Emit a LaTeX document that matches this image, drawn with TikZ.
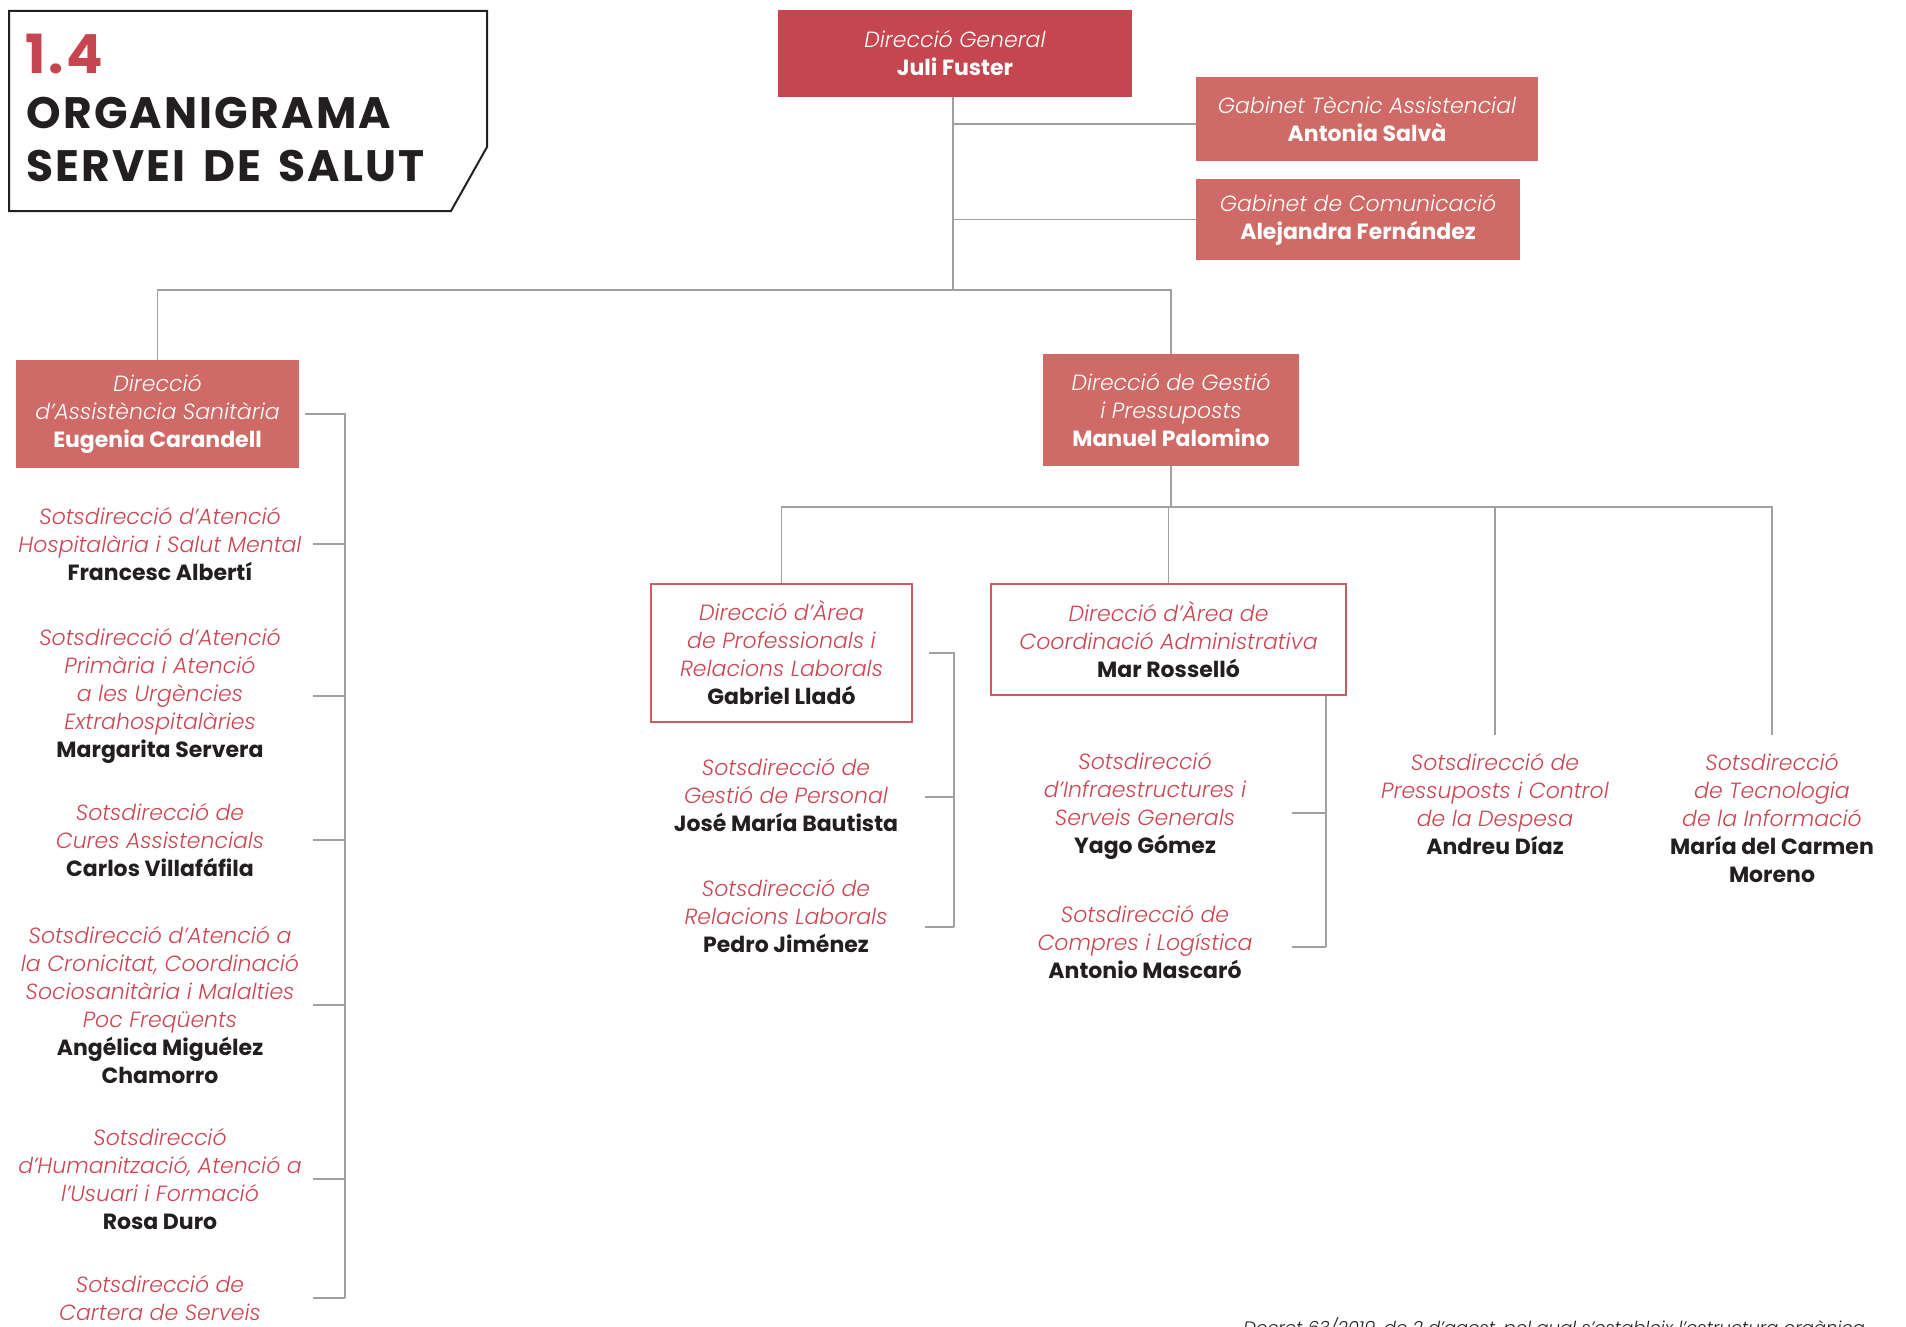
\documentclass[tikz,border=0pt]{standalone}
\usepackage{fontspec}
\setmainfont{Poppins}[ItalicFont={* Light Italic},BoldFont={* Bold}]
\newfontfamily\titlefont{Poppins Bold}[LetterSpace=5,WordSpace=1.5]

\definecolor{chiefred}{HTML}{C5464F}
\definecolor{unitred}{HTML}{CF6A66}
\definecolor{subred}{HTML}{CC4552}
\definecolor{arearule}{HTML}{D05A60}
\definecolor{linkgray}{HTML}{A0A0A0}
\definecolor{ink}{HTML}{231F20}

\newcommand{\nm}[1]{{\upshape\bfseries\fontsize{11}{14}\selectfont #1}}
\newcommand{\pn}[1]{{\color{ink}\upshape\bfseries\fontsize{11}{14}\selectfont #1}}

\begin{document}
\begin{tikzpicture}[x=0.5pt,y=-0.5pt,
        every node/.style={inner sep=0pt,align=center,font=\fontsize{11}{14}\selectfont\itshape},
        chief/.style={fill=chiefred,text=white},
        unit/.style={fill=unitred,text=white},
        area/.style={draw=arearule,line width=0.8pt,fill=white,text=subred},
        sub/.style={text=subred},
        link/.style={draw=linkgray,line width=0.7pt}]
        \useasboundingbox (0,0) rectangle (1906,1327);

        % title
        \draw[line width=1pt,ink] (9,11) -- (487,11) -- (487,147) -- (451,211) -- (9,211) -- cycle;
        \node[anchor=base west,font=\titlefont\fontsize{27}{27}\selectfont,text=chiefred] (num) at (25,74) {1.4};
        \node[anchor=base west,font=\titlefont\fontsize{22}{22}\selectfont,text=ink] (ttl1) at (26,128) {ORGANIGRAMA};
        \node[anchor=base west,font=\titlefont\fontsize{22}{22}\selectfont,text=ink] (ttl2) at (26,182) {SERVEI DE SALUT};

        % boxes
        \node[chief,minimum width=177pt,minimum height=43.5pt] (dg) at (955,53.5) {Direcció General\\\nm{Juli Fuster}};
        \node[unit,minimum width=171pt,minimum height=42pt] (gtec) at (1367,119) {Gabinet Tècnic Assistencial\\\nm{Antonia Salvà}};
        \node[unit,minimum width=162pt,minimum height=40.5pt] (gcom) at (1358,219.5) {Gabinet de Comunicació\\\nm{Alejandra Fernández}};
        \node[unit,minimum width=141.5pt,minimum height=54pt] (eug) at (157.5,414) {Direcció\\d'Assistència Sanitària\\\nm{Eugenia Carandell}};
        \node[unit,minimum width=128pt,minimum height=56pt] (man) at (1171,410) {Direcció de Gestió\\i Pressuposts\\\nm{Manuel Palomino}};
        \node[area,minimum width=130.5pt,minimum height=69pt] (gab) at (781.5,653) {Direcció d'Àrea\\de Professionals i\\Relacions Laborals\\\pn{Gabriel Lladó}};
        \node[area,minimum width=177.5pt,minimum height=55.5pt] (mar) at (1168.5,639.5) {Direcció d'Àrea de\\Coordinació Administrativa\\\pn{Mar Rosselló}};

        % sotsdireccions
        \node[sub] (s1) at (160,544) {Sotsdirecció d'Atenció\\Hospitalària i Salut Mental\\\pn{Francesc Albertí}};
        \node[sub] (s2) at (160,696) {Sotsdirecció d'Atenció\\Primària i Atenció\\a les Urgències\\Extrahospitalàries\\\pn{Margarita Servera}};
        \node[sub] (s3) at (160,840) {Sotsdirecció de\\Cures Assistencials\\\pn{Carlos Villafáfila}};
        \node[sub] (s4) at (160,1005) {Sotsdirecció d'Atenció a\\la Cronicitat, Coordinació\\Sociosanitària i Malalties\\Poc Freqüents\\\pn{Angélica Miguélez}\\\pn{Chamorro}};
        \node[sub] (s5) at (160,1179) {Sotsdirecció\\d'Humanització, Atenció a\\l'Usuari i Formació\\\pn{Rosa Duro}};
        \node[sub] (s6) at (160,1298) {Sotsdirecció de\\Cartera de Serveis};
        \node[sub] (g1) at (786,795) {Sotsdirecció de\\Gestió de Personal\\\pn{José María Bautista}};
        \node[sub] (g2) at (786,916) {Sotsdirecció de\\Relacions Laborals\\\pn{Pedro Jiménez}};
        \node[sub] (m1) at (1145,806) {Sotsdirecció\\d'Infraestructures i\\Serveis Generals\\\pn{Yago Gómez}};
        \node[sub] (m2) at (1145,942) {Sotsdirecció de\\Compres i Logística\\\pn{Antonio Mascaró}};
        \node[sub] (p1) at (1495,804) {Sotsdirecció de\\Pressuposts i Control\\de la Despesa\\\pn{Andreu Díaz}};
        \node[sub] (p2) at (1772,818) {Sotsdirecció\\de Tecnologia\\de la Informació\\\pn{María del Carmen}\\\pn{Moreno}};

        \node[anchor=base west,font=\fontsize{9}{10}\selectfont\itshape,text=ink] (decret) at (1243,1334) {Decret 63/2019, de 2 d'agost, pel qual s'estableix l'estructura orgànica};

        % connectors
        \coordinate (hub) at (953,290);
        \coordinate (br) at (1170,507);
        \coordinate (ev) at (345,0);
        \coordinate (lt) at (313,0);
        \coordinate (gv) at (954,0);
        \coordinate (gt) at (925,0);
        \coordinate (mv) at (1326,0);
        \coordinate (mt) at (1292,0);
        \coordinate (t1) at (1196,124);

        \draw[link] (dg.south -| hub) -- (hub);
        \draw[link] (t1 -| hub) -- (t1);
        \draw[link] (gcom.west -| hub) -- (gcom.west);
        \draw[link] (eug.north) |- (hub) -| (man.north);

        \draw[link] ([xshift=3pt]eug.east) -- (eug.east -| ev) -- (s6 -| ev);
        \foreach \s in {s1,s2,s3,s4,s5,s6}
            \draw[link] (\s -| lt) -- (\s -| ev);

        \draw[link] (man.south) -- (man.south |- br);
        \draw[link] (gab.north) |- (br) -| ([yshift=9pt]p2.north);
        \draw[link] (mar.north) -- (mar.north |- br);
        \draw[link] (p1 |- br) -- ([yshift=9pt]p1.north);

        \draw[link] ([xshift=8pt]gab.east) -- (gab.east -| gv) -- (g2 -| gv) -- ++(0,11);
        \foreach \s/\dy in {g1/2,g2/11}
            \draw[link] (\s -| gt) ++(0,\dy) coordinate (tk) -- (tk -| gv);
        \draw[link] (mar.south -| mv) -- (m2 -| mv) -- ++(0,5);
        \foreach \s/\dy in {m1/7,m2/5}
            \draw[link] (\s -| mt) ++(0,\dy) coordinate (tk) -- (tk -| mv);
\end{tikzpicture}
\end{document}
